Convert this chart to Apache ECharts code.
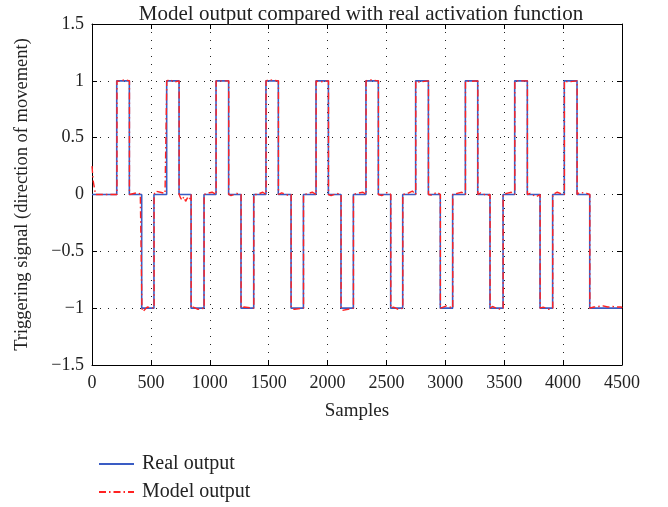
<!DOCTYPE html>
<html>
<head>
<meta charset="utf-8">
<script src="https://cdn.jsdelivr.net/npm/echarts@6/dist/echarts.min.js"></script>
<style>html,body{margin:0;padding:0;background:#fff}#c{width:668px;height:507px}</style>
</head>
<body>
<div id="c"></div>
<script>
// ---- data ----
const xTicks = [0, 500, 1000, 1500, 2000, 2500, 3000, 3500, 4000, 4500];
const yTicks = [-1.5, -1, -0.5, 0, 0.5, 1, 1.5];
// Real output: transition samples and the level after each transition (starts at 0)
const realTransitions = [210,317,422,526,634,739,841,951,1053,1160,1265,1373,1477,1582,1690,1795,1902,2007,2114,2219,2326,2431,2536,2638,2748,2856,2957,3062,3170,3275,3379,3490,3589,3696,3804,3911,4010,4118,4226];
const realLevels      = [1,0,-1,0, 1,0,-1,0, 1,0,-1,0, 1,0,-1,0, 1,0,-1,0, 1,0,-1,0, 1,0,-1,0, 1,0,-1,0, 1,0,-1,0, 1,0,-1];
// Model output: transitions (nearly identical) and small deviations
const modelTransitions = [212,318,424,527,635,740,842,952,1054,1161,1266,1374,1478,1583,1691,1796,1903,2008,2115,2220,2327,2432,2537,2639,2749,2857,2958,3063,3171,3276,3380,3491,3590,3697,3805,3912,4011,4119,4227];
const modelLevels      = [1,0,-1,0, 1,0,-1,0, 1,0,-1,0, 1,0,-1,0, 1,0,-1,0, 1,0,-1,0, 1,0,-1,0, 1,0,-1,0, 1,0,-1,0, 1,0,-1];
const modelNoiseX = [0, 10, 30, 230, 280, 330, 380, 410, 432, 470, 540, 580, 620, 660, 700, 752, 765, 780, 795, 810, 825, 838, 860, 900, 975, 1020, 1080, 1180, 1230, 1290, 1400, 1450, 1500, 1610, 1660, 1720, 1820, 1870, 1930, 2030, 2080, 2125, 2250, 2300, 2350, 2460, 2510, 2560, 2600, 2680, 2720, 2780, 2880, 2930, 2970, 3010, 3100, 3140, 3200, 3300, 3350, 3400, 3450, 3520, 3560, 3620, 3720, 3770, 3830, 3880, 3950, 3990, 4040, 4140, 4200, 4260, 4300, 4340, 4380, 4420, 4460, 4495];
const modelNoiseY = [0.25, 0.12, 0.0, 0.995, 1.01, 0.01, 0.015, 0.005, -1.03, -0.99, 0.03, 0.02, 0.01, 1.01, 0.99, -0.03, -0.05, -0.02, -0.06, -0.03, -0.05, -0.02, -0.99, -1.01, 0.01, 0.02, 1.0, -0.01, 0.01, -0.99, 0.0, 0.02, 1.01, 0.015, -0.005, -1.01, 0.005, 0.02, 0.99, -0.01, 0.01, -1.02, 0.01, 0.02, 1.01, -0.01, 0.02, -0.99, -1.01, 0.01, 0.03, 0.99, -0.005, 0.02, -1.01, -0.98, 0.01, 0.02, 0.995, 0.015, -0.01, -0.985, -1.01, 0.01, 0.02, 1.0, 0.01, -0.02, -0.99, -1.01, 0.02, 0.005, 0.99, 0.02, 0.01, -0.99, -0.985, -0.98, -0.99, -0.985, -0.99, -0.99];

const xMax = 4500;

function buildSteps(trans, levels, noiseX, noiseY) {
  const pts = [[0, 0]];
  let prev = 0;
  for (let i = 0; i < trans.length; i++) {
    pts.push([trans[i], prev]);
    pts.push([trans[i], levels[i]]);
    prev = levels[i];
  }
  pts.push([xMax, prev]);
  if (noiseX) {
    for (let i = 0; i < noiseX.length; i++) pts.push([noiseX[i], noiseY[i]]);
    pts.sort((a, b) => a[0] - b[0]);
  }
  return pts;
}
const realData = buildSteps(realTransitions, realLevels);
let modelData = buildSteps(modelTransitions, modelLevels, modelNoiseX, modelNoiseY);
modelData = modelData.filter((p) => !(p[0] === 0 && p[1] === 0));

const serif = '"Liberation Serif", "DejaVu Serif", serif';
const fmt = v => (v < 0 ? '\u2212' + Math.abs(v) : String(v));

const gridLine = { show: true, lineStyle: { color: '#222', width: 1, type: [1, 7] } };
const axisLine = { show: true, onZero: false, lineStyle: { color: '#000', width: 1 } };
const tick = { show: true, inside: true, length: 5, lineStyle: { color: '#000' } };
const legendBase = {
  left: 93, orient: 'vertical', itemWidth: 35, itemHeight: 14,
  itemStyle: { opacity: 0 },
  textStyle: { fontFamily: serif, fontSize: 20, color: '#222', padding: [0, 0, 0, 3] }
};
const chart = echarts.init(document.getElementById('c'), null, { renderer: 'canvas' });
chart.setOption({
  animation: false,
  backgroundColor: '#fff',
  title: {
    text: 'Model output compared with real activation function',
    left: 356, top: -1, textAlign: 'center',
    textStyle: { fontFamily: serif, fontSize: 21, fontWeight: 'normal', color: '#222' }
  },
  legend: [
    Object.assign({}, legendBase, { top: 449, data: ['Real output'] }),
    Object.assign({}, legendBase, { top: 477, data: ['Model output'] })
  ],
  grid: { left: 92, right: 46, top: 24, bottom: 142 },
  xAxis: [{
    type: 'value', min: 0, max: 4500, interval: 500,
    name: 'Samples', nameLocation: 'middle', nameGap: 37,
    nameTextStyle: { fontFamily: serif, fontSize: 19, color: '#222' },
    axisLine: axisLine, axisTick: tick,
    axisLabel: { fontFamily: serif, fontSize: 18, color: '#222', margin: 9, formatter: fmt },
    splitLine: gridLine
  }, {
    type: 'value', min: 0, max: 4500, interval: 500, position: 'top',
    axisLine: axisLine, axisTick: tick,
    axisLabel: { show: false }, splitLine: { show: false }
  }],
  yAxis: [{
    type: 'value', min: -1.5, max: 1.5, interval: 0.5,
    name: 'Triggering signal (direction of movement)', nameLocation: 'middle', nameGap: 60,
    nameTextStyle: { fontFamily: serif, fontSize: 18.5, color: '#222' },
    axisLine: axisLine, axisTick: tick,
    axisLabel: { fontFamily: serif, fontSize: 18, color: '#222', margin: 8, formatter: fmt },
    splitLine: gridLine
  }, {
    type: 'value', min: -1.5, max: 1.5, interval: 0.5, position: 'right',
    axisLine: axisLine, axisTick: tick,
    axisLabel: { show: false }, splitLine: { show: false }
  }],
  series: [{
    name: 'Real output', type: 'line', data: realData, symbol: 'none', showSymbol: false,
    xAxisIndex: 0, yAxisIndex: 0,
    lineStyle: { color: '#3a5cc4', width: 1.6 }, itemStyle: { color: '#3a5cc4' }
  }, {
    name: 'Model output', type: 'line', data: modelData, symbol: 'none', showSymbol: false,
    xAxisIndex: 0, yAxisIndex: 0,
    lineStyle: { color: '#ff2222', width: 1.4, type: [7, 3, 1.5, 3] }, itemStyle: { color: '#ff2222' }
  }]
});
</script>
</body>
</html>
